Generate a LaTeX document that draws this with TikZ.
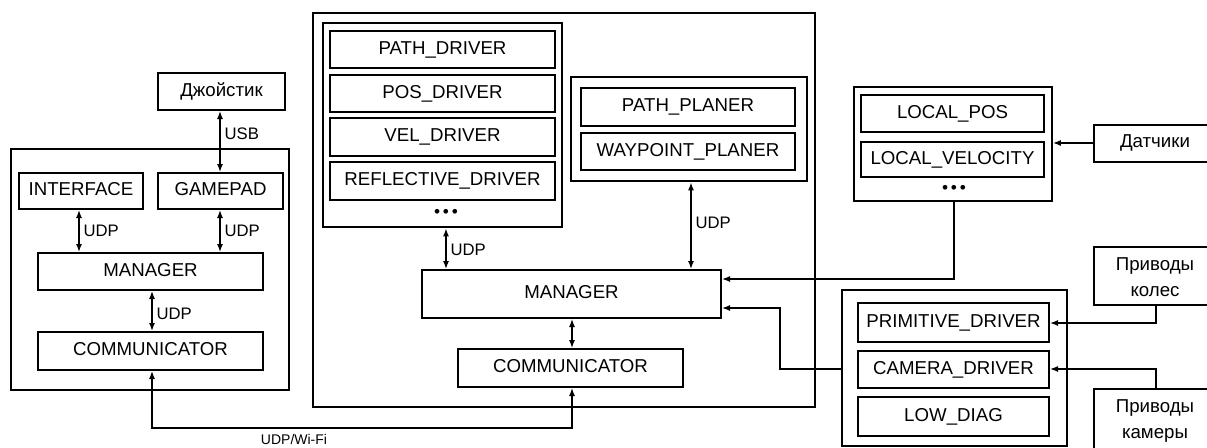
\documentclass[tikz,border=0pt]{standalone}
\usepackage{fontspec}
\setmainfont{Liberation Sans}
\usetikzlibrary{fit,arrows.meta}
\begin{document}
\begin{tikzpicture}[x=0.75pt,y=-0.75pt,
  txt/.style={font=\fontsize{14}{16}\selectfont, text height=0.72em, text depth=0pt, inner sep=0pt},
  box/.style={draw, line width=1.5pt, inner sep=0pt},
  grp/.style={draw, line width=2.1pt, inner sep=0pt},
  mid/.style={draw, line width=1.3pt, inner sep=0pt},
  con/.style={line width=1pt},
  arr/.style={con, -{Latex[length=6pt,width=4.5pt]}},
  barr/.style={con, {Latex[length=6pt,width=4.5pt]}-{Latex[length=6pt,width=4.5pt]}},
  lbl/.style={font=\fontsize{12.5}{14}\selectfont, anchor=west, inner sep=0pt},
  dots/.style={font=\fontsize{13}{14}\selectfont, inner sep=0pt}
]
\useasboundingbox (0,0) rectangle (1207,447);
\clip (0,0) rectangle (1207,447);
% ---- left: operator station ----
\node[box, fit={(158,73) (285,110)}, label={[txt]center:Джойстик}] (joy) {};
\node[mid, fit={(11,149) (289,390)}] (lout) {};
\node[box, fit={(19,173) (143,209)}, label={[txt]center:INTERFACE}] (iface) {};
\node[box, fit={(158,173) (283,209)}, label={[txt]center:GAMEPAD}] (gpad) {};
\node[box, fit={(38,253) (263,290)}, label={[txt]center:MANAGER}] (lman) {};
\node[box, fit={(38,332) (263,370)}, label={[txt]center:COMMUNICATOR}] (lcom) {};
\draw[barr] (joy.south -| 220,0) -- (gpad.north -| 220,0) node[lbl, midway, xshift=3pt, yshift=6pt] {USB};
\draw[barr] (iface.south -| 79,0) -- (lman.north -| 79,0) node[lbl, midway, xshift=3pt] {UDP};
\draw[barr] (gpad.south -| 220,0) -- (lman.north -| 220,0) node[lbl, midway, xshift=3pt] {UDP};
\draw[barr] (lman.south -| 152,0) -- (lcom.north -| 152,0) node[lbl, midway, xshift=3pt, yshift=-2pt] {UDP};
% ---- robot onboard ----
\node[grp, fit={(313,13) (815,407)}] (rout) {};
\node[grp, fit={(323,23) (562,227)}] (drv) {};
\node[box, fit={(330,31) (555,68)}, label={[txt]center:PATH\_DRIVER}] (pd) {};
\node[box, fit={(330,75) (555,112)}, label={[txt]center:POS\_DRIVER}] (posd) {};
\node[box, fit={(330,118) (555,156)}, label={[txt]center:VEL\_DRIVER}] (veld) {};
\node[box, fit={(330,162) (555,200)}, label={[txt]center:REFLECTIVE\_DRIVER}] (refd) {};
\node[dots] (ddots) at (446,213) {•\,•\,•};
\node[grp, fit={(571,77) (807,181)}] (pl) {};
\node[box, fit={(581,88) (795,126)}, label={[txt]center:PATH\_PLANER}] (pp) {};
\node[box, fit={(581,133) (795,170)}, label={[txt]center:WAYPOINT\_PLANER}] (wp) {};
\node[box, fit={(422,270) (721,318)}, label={[txt]center:MANAGER}] (rman) {};
\node[box, fit={(458,349) (683,387)}, label={[txt]center:COMMUNICATOR}] (rcom) {};
\draw[barr] (drv.south -| 446,0) -- (rman.north -| 446,0) node[lbl, midway, xshift=3pt, yshift=-1pt] {UDP};
\draw[barr] (pl.south -| 691,0) -- (rman.north -| 691,0) node[lbl, midway, xshift=3pt, yshift=2pt] {UDP};
\draw[barr] (rman.south -| 572,0) -- (rcom.north -| 572,0);
% ---- Wi-Fi link ----
\coordinate (wl) at (152,428);
\coordinate (wr) at (572,428);
\draw[barr] (lcom.south -| wl) -- (wl) -- (wr) -- (rcom.south -| wr);
\node[font=\fontsize{10.5}{12}\selectfont, inner sep=0pt] (wifi) at (294,439) {UDP/Wi-Fi};
% ---- sensors ----
\node[mid, fit={(854,87) (1052,201)}] (sg) {};
\node[box, fit={(861,95) (1044,132)}, label={[txt]center:LOCAL\_POS}] (lpos) {};
\node[box, fit={(861,142) (1044,177)}, label={[txt]center:LOCAL\_VELOCITY}] (lvel) {};
\node[dots] (sdots) at (954,189) {•\,•\,•};
\node[mid, fit={(1094,125) (1216,162)}] (dat) {};
\node[txt] (datt) at (1155,143) {Датчики};
\draw[arr] (dat.west |- 0,143) -- (sg.east |- 0,143);
\coordinate (sc) at (954,279);
\draw[arr] (sg.south -| sc) -- (sc) -- (rman.east |- sc);
% ---- low level ----
\node[mid, fit={(842,290) (1067,446)}] (lg) {};
\node[box, fit={(858,303) (1049,342)}, label={[txt]center:PRIMITIVE\_DRIVER}] (prim) {};
\node[box, fit={(858,351) (1049,388)}, label={[txt]center:CAMERA\_DRIVER}] (cam) {};
\node[box, fit={(858,397) (1049,436)}, label={[txt]center:LOW\_DIAG}] (ldiag) {};
\node[mid, fit={(1094,247) (1216,305)}] (pk) {};
\node[font=\fontsize{14}{19}\selectfont, align=center, inner sep=0pt] (pkt) at (1155,277) {Приводы\\колес};
\node[mid, fit={(1094,389) (1216,453)}] (pc) {};
\node[font=\fontsize{14}{19}\selectfont, align=center, inner sep=0pt] (pct) at (1155,421) {Приводы\\камеры};
\coordinate (pka) at (1156,323);
\draw[arr] (pk.south -| pka) -- (pka) -- (prim.east |- pka);
\coordinate (pca) at (1156,369);
\draw[arr] (pc.north -| pca) -- (pca) -- (cam.east |- pca);
\coordinate (lga) at (780,369);
\coordinate (lgb) at (780,308);
\draw[arr] (lg.west |- lga) -- (lga) -- (lgb) -- (rman.east |- lgb);
\end{tikzpicture}
\end{document}
